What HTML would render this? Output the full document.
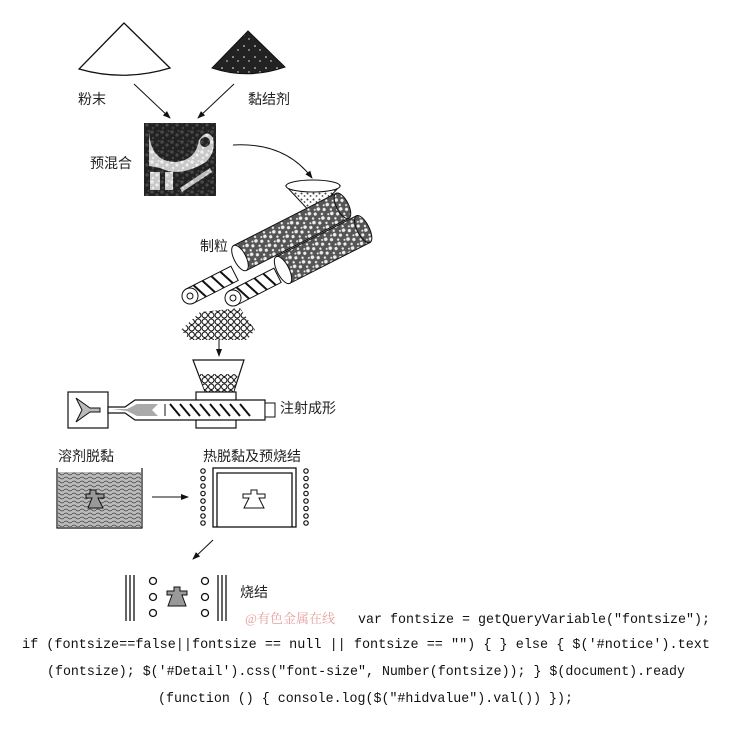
<!DOCTYPE html>
<html><head><meta charset="utf-8"><style>
html,body{margin:0;padding:0;background:#fff;width:730px;height:745px;overflow:hidden}
svg{display:block}
.cn{font-family:"Liberation Sans","Noto Sans CJK SC",sans-serif;font-size:14px;fill:#222}
.code{font-family:"Liberation Mono","Noto Sans CJK SC",monospace;font-size:14px;fill:#111}
</style></head><body>
<svg width="730" height="745" viewBox="0 0 730 745" xmlns="http://www.w3.org/2000/svg">
<defs>
<pattern id="speck" width="11" height="11" patternUnits="userSpaceOnUse">
<rect width="11" height="11" fill="#222"/>
<circle cx="2" cy="2" r="0.8" fill="#fff"/><circle cx="7" cy="6" r="0.7" fill="#fff"/>
</pattern>
<pattern id="mott" width="10" height="10" patternUnits="userSpaceOnUse">
<rect width="10" height="10" fill="#555"/>
<circle cx="2" cy="2" r="1.8" fill="#eee"/><circle cx="7" cy="5" r="1.6" fill="#eee"/><circle cx="3" cy="8" r="1.2" fill="#eee"/><circle cx="8.5" cy="1" r="1" fill="#eee"/>
</pattern>
<pattern id="speck2" width="6" height="6" patternUnits="userSpaceOnUse">
<rect width="6" height="6" fill="#fff"/>
<circle cx="1.5" cy="1.5" r="1" fill="#444"/><circle cx="4.5" cy="4" r="0.9" fill="#444"/>
</pattern>
<pattern id="wave" width="8" height="4" patternUnits="userSpaceOnUse">
<rect width="8" height="4" fill="#bbb"/>
<path d="M0 2 Q2 0 4 2 T8 2" stroke="#444" stroke-width="0.8" fill="none"/>
</pattern>
<pattern id="pel" width="6.5" height="6.5" patternUnits="userSpaceOnUse">
<rect width="6.5" height="6.5" fill="#fff"/>
<circle cx="3.25" cy="3.25" r="2.7" fill="none" stroke="#111" stroke-width="1"/>
</pattern>
<marker id="ah" markerWidth="8" markerHeight="8" refX="7" refY="4" orient="auto" markerUnits="userSpaceOnUse">
<path d="M0 1 L8 4 L0 7 Z" fill="#111"/>
</marker>
</defs>

<path d="M124 23 L79 69 Q124 82 170 68 Z" fill="#fff" stroke="#111" stroke-width="1.3"/>
<path d="M248 31 L212 68 Q248 80 285 67 Z" fill="url(#speck)" stroke="#111" stroke-width="1"/>
<text class="cn" x="78" y="104">粉末</text>
<text class="cn" x="248" y="104">黏结剂</text>
<line x1="134" y1="84" x2="170" y2="118" stroke="#111" stroke-width="1" marker-end="url(#ah)"/>
<line x1="234" y1="84" x2="198" y2="118" stroke="#111" stroke-width="1" marker-end="url(#ah)"/>

<rect x="144" y="123" width="72" height="73" fill="#111"/>
<path d="M149 128 Q149 162 176 162 Q196 160 199 140 Q207 128 213 138 Q216 152 206 162 Q180 178 160 168 L149 166 Z" fill="#eee"/>
<path d="M165 130 L180 130 L180 148 Q172 154 165 148 Z" fill="#111"/>
<circle cx="205" cy="142" r="5" fill="#111"/>
<rect x="150" y="172" width="10" height="18" fill="#eee"/>
<rect x="165" y="172" width="8" height="18" fill="#eee"/>
<path d="M180 188 L210 168 L212 172 L182 192 Z" fill="#ddd"/>
<rect x="144" y="123" width="72" height="73" fill="url(#mott)" opacity="0.25"/>
<text class="cn" x="90" y="168">预混合</text>
<path d="M233 145 Q285 142 312 178" fill="none" stroke="#111" stroke-width="1" marker-end="url(#ah)"/>

<path d="M286 186 L313 215 L340 186 Z" fill="url(#speck2)" stroke="#111"/>
<ellipse cx="313" cy="186" rx="27" ry="6" fill="#fff" stroke="#111"/>

<g transform="translate(240,258) rotate(-27)">
<rect x="0" y="-14" width="115" height="28" fill="url(#mott)" stroke="#111"/>
<ellipse cx="115" cy="0" rx="6" ry="14" fill="url(#mott)" stroke="#111"/>
<ellipse cx="0" cy="0" rx="6" ry="14" fill="#fff" stroke="#111"/>
</g>
<g transform="translate(283,270) rotate(-27)">
<rect x="0" y="-15" width="90" height="30" fill="url(#mott)" stroke="#111"/>
<ellipse cx="90" cy="0" rx="6" ry="15" fill="url(#mott)" stroke="#111"/>
<ellipse cx="0" cy="0" rx="6" ry="15" fill="#fff" stroke="#111"/>
</g>
<g transform="translate(190,296) rotate(-27)">
<rect x="0" y="-8" width="50" height="16" fill="#fff" stroke="#111"/>
<path d="M8 -8 L14 8 M18 -8 L24 8 M28 -8 L34 8 M38 -8 L44 8" stroke="#111" stroke-width="2"/>
<circle cx="0" cy="0" r="8" fill="#fff" stroke="#111"/><circle cx="0" cy="0" r="3" fill="#fff" stroke="#111"/>
</g>
<g transform="translate(233,298) rotate(-27)">
<rect x="0" y="-8" width="50" height="16" fill="#fff" stroke="#111"/>
<path d="M8 -8 L14 8 M18 -8 L24 8 M28 -8 L34 8 M38 -8 L44 8" stroke="#111" stroke-width="2"/>
<circle cx="0" cy="0" r="8" fill="#fff" stroke="#111"/><circle cx="0" cy="0" r="3" fill="#fff" stroke="#111"/>
</g>
<text class="cn" x="200" y="251">制粒</text>

<path d="M181 330 L200 312 L240 308 L255 330 L247 340 L190 340 Z" fill="url(#pel)"/>
<line x1="219" y1="340" x2="219" y2="356" stroke="#111" marker-end="url(#ah)"/>

<path d="M193 360 L244 360 L233 394 L206 394 Z" fill="#fff" stroke="#111" stroke-width="1.2"/>
<path d="M199 374 L238 374 L233 394 L206 394 Z" fill="url(#pel)"/>

<rect x="68" y="392" width="40" height="36" fill="#fff" stroke="#111" stroke-width="1.2"/>
<path d="M76 398 L90 408 L100 408 L100 412 L90 412 L76 422 L82 410 Z" fill="#bbb" stroke="#111"/>
<rect x="196" y="392" width="40" height="36" fill="#fff" stroke="#111" stroke-width="1.2"/>
<path d="M108 407 L125 407 L135 400 L265 400 L265 420 L135 420 L125 413 L108 413 Z" fill="#fff" stroke="#111" stroke-width="1.2"/>
<path d="M112 409 L127 409 L137 404 L158 404 L152 410 L158 416 L137 416 L127 411 Z" fill="#aaa"/>
<path d="M170 404 L180 416 M180 404 L190 416 M190 404 L200 416 M200 404 L210 416 M210 404 L220 416 M220 404 L230 416 M230 404 L240 416 M240 404 L250 416" stroke="#111" stroke-width="2"/>
<line x1="165" y1="404" x2="165" y2="416" stroke="#111"/>
<rect x="265" y="403" width="10" height="14" fill="#fff" stroke="#111"/>
<text class="cn" x="280" y="413">注射成形</text>

<text class="cn" x="58" y="461">溶剂脱黏</text>
<path d="M57 468 L57 528 L142 528 L142 468" fill="none" stroke="#111" stroke-width="1.2"/>
<rect x="58" y="472" width="83" height="55" fill="url(#wave)"/>
<path d="M90 490 L96 490 L96 494 L104 494 L104 498 L98 498 L103 508 L88 508 L92 498 L86 498 L86 494 L90 494 Z" fill="#999" stroke="#111"/>
<line x1="152" y1="497" x2="188" y2="497" stroke="#111" marker-end="url(#ah)"/>

<text class="cn" x="203" y="461">热脱黏及预烧结</text>
<g fill="#fff" stroke="#111" stroke-width="1.2">
<circle cx="203" cy="471" r="2.2"/><circle cx="203" cy="478.5" r="2.2"/><circle cx="203" cy="486" r="2.2"/><circle cx="203" cy="493.5" r="2.2"/><circle cx="203" cy="501" r="2.2"/><circle cx="203" cy="508.5" r="2.2"/><circle cx="203" cy="516" r="2.2"/><circle cx="203" cy="523" r="2.2"/>
<circle cx="306" cy="471" r="2.2"/><circle cx="306" cy="478.5" r="2.2"/><circle cx="306" cy="486" r="2.2"/><circle cx="306" cy="493.5" r="2.2"/><circle cx="306" cy="501" r="2.2"/><circle cx="306" cy="508.5" r="2.2"/><circle cx="306" cy="516" r="2.2"/><circle cx="306" cy="523" r="2.2"/>
</g>
<rect x="213" y="468" width="83" height="59" fill="#fff" stroke="#111" stroke-width="1.3"/>
<path d="M217 527 L217 473 L292 473 L292 527" fill="none" stroke="#111" stroke-width="1.3"/>
<path d="M251 490 L257 490 L257 494 L265 494 L265 498 L259 498 L264 508 L244 508 L249 498 L243 498 L243 494 L251 494 Z" fill="#fff" stroke="#111"/>
<line x1="213" y1="540" x2="193" y2="559" stroke="#111" marker-end="url(#ah)"/>

<g stroke="#111" stroke-width="1.3">
<line x1="126" y1="575" x2="126" y2="621"/><line x1="130" y1="575" x2="130" y2="621"/><line x1="134" y1="575" x2="134" y2="621"/>
<line x1="218" y1="575" x2="218" y2="621"/><line x1="222" y1="575" x2="222" y2="621"/><line x1="226" y1="575" x2="226" y2="621"/>
</g>
<g fill="#fff" stroke="#111" stroke-width="1.3">
<circle cx="153" cy="581" r="3.5"/><circle cx="153" cy="597" r="3.5"/><circle cx="153" cy="613" r="3.5"/>
<circle cx="205" cy="581" r="3.5"/><circle cx="205" cy="597" r="3.5"/><circle cx="205" cy="613" r="3.5"/>
</g>
<path d="M174 587 L180 587 L180 591 L187 591 L187 595 L182 595 L186 606 L168 606 L172 595 L167 595 L167 591 L174 591 Z" fill="#999" stroke="#111"/>
<text class="cn" x="240" y="597">烧结</text>

<text x="245" y="623" font-family="'Liberation Serif','Noto Serif CJK SC',serif" font-size="13" fill="#e8a0a0">@有色金属在线</text>
<text class="code" x="358" y="623" textLength="352" lengthAdjust="spacingAndGlyphs">var fontsize = getQueryVariable("fontsize");</text>
<text class="code" x="22" y="648" textLength="688" lengthAdjust="spacingAndGlyphs">if (fontsize==false||fontsize == null || fontsize == "") { } else { $('#notice').text</text>
<text class="code" x="47" y="675" textLength="638" lengthAdjust="spacingAndGlyphs">(fontsize); $('#Detail').css("font-size", Number(fontsize)); } $(document).ready</text>
<text class="code" x="158" y="702" textLength="415" lengthAdjust="spacingAndGlyphs">(function () { console.log($("#hidvalue").val()) });</text>
</svg>
</body></html>
